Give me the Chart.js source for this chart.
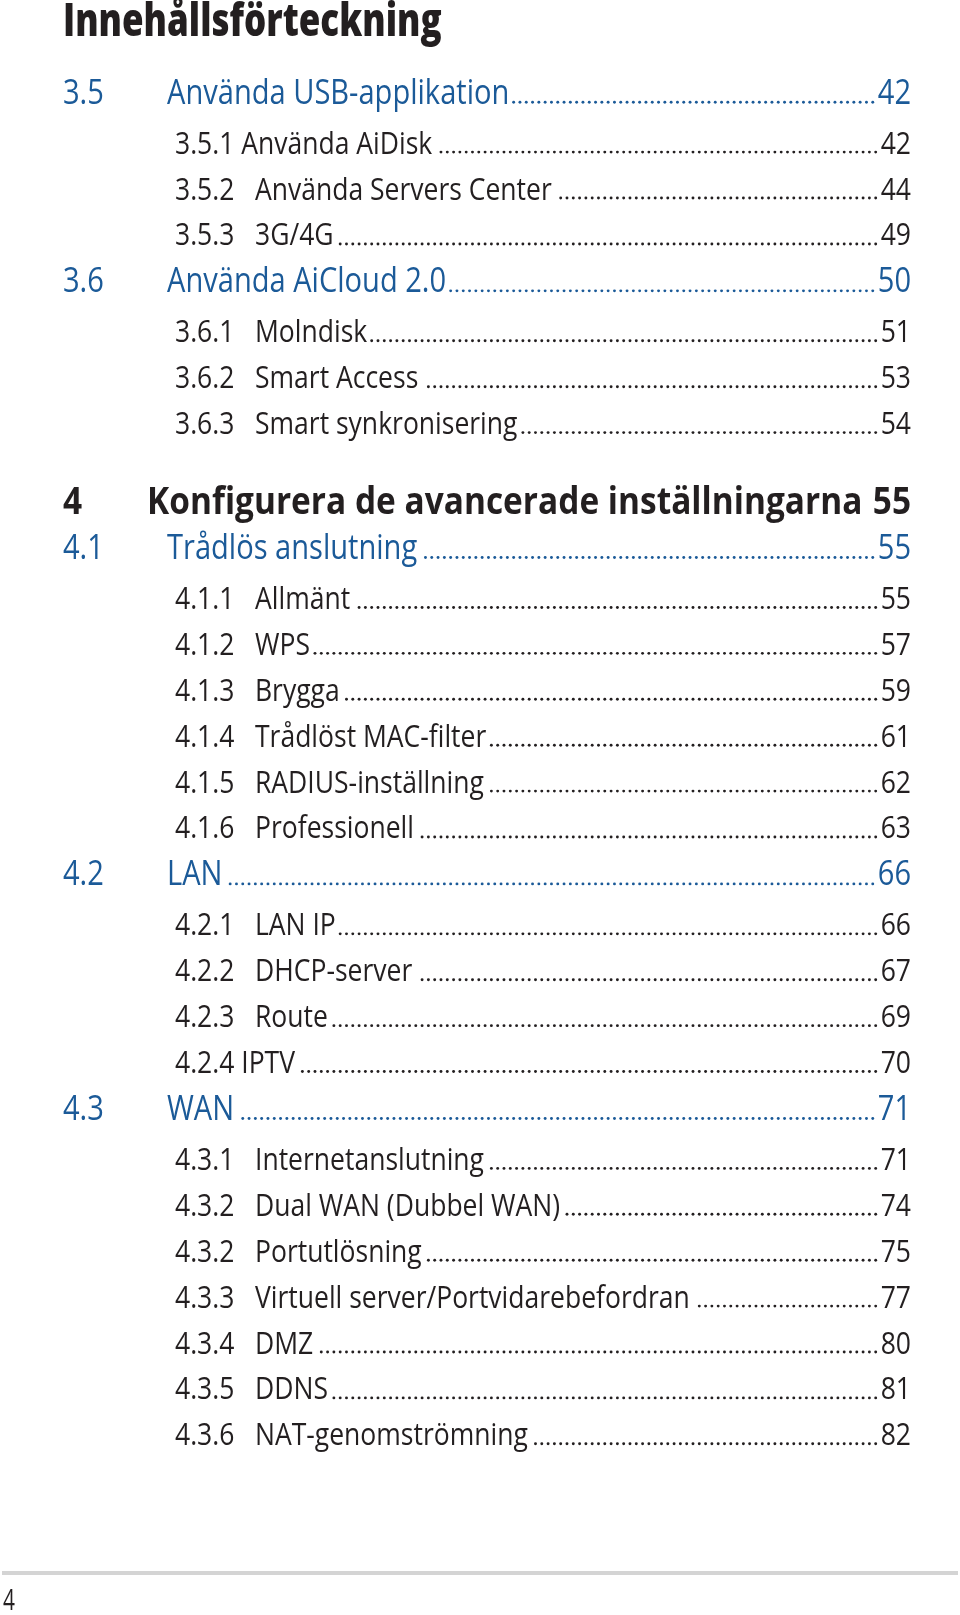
<!DOCTYPE html>
<html>
<head>
<meta charset="utf-8">
<script src="https://cdn.jsdelivr.net/npm/chart.js@4.4.1/dist/chart.umd.min.js"></script>
<style>
  html, body { margin: 0; padding: 0; background: #fff; }
  #wrap { width: 960px; height: 1615px; position: relative; }
</style>
</head>
<body>
<div id="wrap"><canvas id="tocChart"></canvas></div>
<script>
// table of contents entries
const pageTitle = 'Innehållsförteckning';
const footerPage = '4';
const numbers = ['3.5', '3.5.1', '3.5.2', '3.5.3', '3.6', '3.6.1', '3.6.2', '3.6.3',
    '4', '4.1', '4.1.1', '4.1.2', '4.1.3', '4.1.4', '4.1.5', '4.1.6',
    '4.2', '4.2.1', '4.2.2', '4.2.3', '4.2.4',
    '4.3', '4.3.1', '4.3.2', '4.3.2', '4.3.3', '4.3.4', '4.3.5', '4.3.6'];
const titles = ['Använda USB-applikation', 'Använda AiDisk', 'Använda Servers Center', '3G/4G',
    'Använda AiCloud 2.0', 'Molndisk', 'Smart Access', 'Smart synkronisering',
    'Konfigurera de avancerade inställningarna', 'Trådlös anslutning', 'Allmänt', 'WPS', 'Brygga',
    'Trådlöst MAC-filter', 'RADIUS-inställning', 'Professionell',
    'LAN', 'LAN IP', 'DHCP-server', 'Route', 'IPTV',
    'WAN', 'Internetanslutning', 'Dual WAN (Dubbel WAN)', 'Portutlösning',
    'Virtuell server/Portvidarebefordran', 'DMZ', 'DDNS', 'NAT-genomströmning'];
const pages = [42, 42, 44, 49, 50, 51, 53, 54,
    55, 55, 55, 57, 59, 61, 62, 63,
    66, 66, 67, 69, 70,
    71, 71, 74, 75, 77, 80, 81, 82];
// 0 = chapter, 1 = section, 2 = subsection
const levels = [1, 2, 2, 2, 1, 2, 2, 2,
    0, 1, 2, 2, 2, 2, 2, 2,
    1, 2, 2, 2, 2,
    1, 2, 2, 2, 2, 2, 2, 2];
// numbers printed with a single space instead of the tab column
const runIn = ['3.5.1', '4.2.4'];

const DARK = '#231f20';
const BLUE = '#1b5a98';
const FONT = '"Open Sans", "Noto Sans", sans-serif';

const styles = {
    0: { weight: 'bold', size: 38, color: DARK, numX: 0, titleX: 84, sx: 0.88, leaders: false },
    1: { weight: 'normal', size: 34, color: BLUE, numX: 0, titleX: 104, sx: 0.855, leaders: true },
    2: { weight: 'normal', size: 31, color: DARK, numX: 112, titleX: 192, sx: 0.855, leaders: true }
};

// row positions in line units: extra air after a section, more before a chapter
const rows = [];
levels.forEach((lv, i) => {
    if (i === 0) { rows.push(0); return; }
    let step = 1;
    if (levels[i - 1] === 1) step += 0.11;
    if (lv === 0) step += 0.7;
    rows.push(rows[i - 1] + step);
});

function put(ctx, text, x, y, sx, align) {
    const w = ctx.measureText(text).width * sx;
    ctx.save();
    ctx.translate(x, y);
    ctx.scale(sx, 1);
    ctx.textAlign = align || 'left';
    ctx.fillText(text, 0, 0);
    ctx.restore();
    return w;
}

const tocText = {
    id: 'tocText',
    afterDatasetsDraw(chart) {
        const ctx = chart.ctx;
        const area = chart.chartArea;
        const pts = chart.getDatasetMeta(0).data;
        ctx.save();
        ctx.textBaseline = 'alphabetic';

        // heading
        ctx.fillStyle = DARK;
        ctx.font = '800 46px ' + FONT;
        put(ctx, pageTitle, area.left, 36, 0.76);

        pts.forEach((pt, i) => {
            const st = styles[levels[i]];
            const base = pt.y + st.size * 0.34;
            ctx.font = st.weight + ' ' + st.size + 'px ' + FONT;
            ctx.fillStyle = st.color;

            let titleEnd;
            if (runIn.includes(numbers[i])) {
                titleEnd = area.left + st.numX + put(ctx, numbers[i] + ' ' + titles[i], area.left + st.numX, base, st.sx);
            } else {
                put(ctx, numbers[i], area.left + st.numX, base, st.sx);
                titleEnd = area.left + st.titleX + put(ctx, titles[i], area.left + st.titleX, base, st.sx);
            }
            const pw = put(ctx, String(pages[i]), pt.x, base, st.sx, 'right');

            if (st.leaders) {
                const gap = 6.3;
                let x = pt.x - pw - 5;
                while (x > titleEnd + 4) {
                    ctx.beginPath();
                    ctx.arc(x, base - 1.5, 1.45, 0, Math.PI * 2);
                    ctx.fill();
                    x -= gap;
                }
            }
        });

        // footer rule and folio
        ctx.strokeStyle = '#d4d4d4';
        ctx.lineWidth = 4;
        ctx.beginPath();
        ctx.moveTo(2, area.bottom + 12);
        ctx.lineTo(chart.width - 2, area.bottom + 12);
        ctx.stroke();
        ctx.fillStyle = DARK;
        ctx.font = '29px ' + FONT;
        put(ctx, footerPage, 3, area.bottom + 49, 0.72);
        ctx.restore();
    }
};

const ctx = document.getElementById('tocChart').getContext('2d');
const tocChart = new Chart(ctx, {
    type: 'scatter',
    data: {
        datasets: [{
            label: 'Sida',
            data: pages.map((p, i) => ({ x: 1, y: rows[i], page: p })),
            pointRadius: 0,
            pointHoverRadius: 0
        }]
    },
    options: {
        responsive: true,
        maintainAspectRatio: false,
        animation: false,
        layout: { padding: { top: 60, left: 63, right: 49, bottom: 54 } },
        plugins: {
            legend: { display: false },
            tooltip: { enabled: false }
        },
        scales: {
            x: { type: 'linear', min: 0, max: 1, display: false },
            y: { type: 'linear', min: -0.7, max: 32, reverse: true, display: false }
        }
    },
    plugins: [tocText]
});
</script>
</body>
</html>
